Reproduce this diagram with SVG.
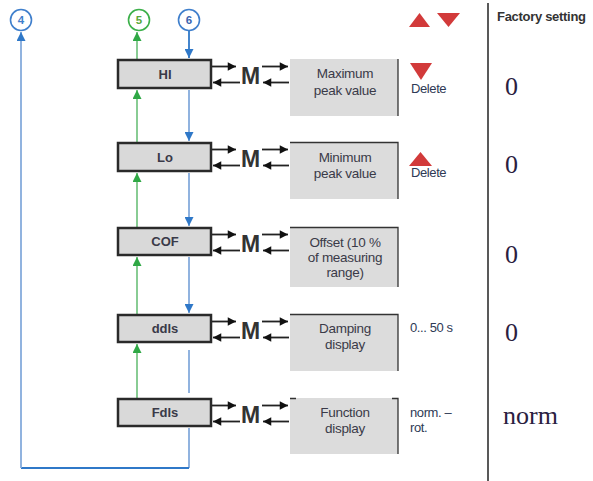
<svg xmlns="http://www.w3.org/2000/svg" width="593" height="481" viewBox="0 0 593 481">
<style>
.box{fill:#d9d9d9;stroke:#2a2a2a;stroke-width:2.5}
.pbox{fill:#dcdcdc}
.pedge{stroke:#333;stroke-width:1.3;fill:none}
.lbl{font-family:"Liberation Sans",Arial,sans-serif;font-weight:bold;font-size:13px;fill:#3a3a48;text-anchor:middle}
.ptxt{font-family:"Liberation Sans",Arial,sans-serif;font-size:13.5px;fill:#3a3a48;text-anchor:middle;letter-spacing:-0.3px}
.side{font-family:"Liberation Sans",Arial,sans-serif;font-size:13px;fill:#2e3a55;letter-spacing:-0.4px}
.M{font-family:"Liberation Sans",Arial,sans-serif;font-weight:bold;font-size:23px;fill:#333}
.val{font-family:"Liberation Serif","Times New Roman",serif;font-size:26px;fill:#2a2040}
.mar{stroke:#222;stroke-width:1.8;fill:none}
.g{stroke:#7cc788;stroke-width:1.8;fill:none}
.b{stroke:#85abdc;stroke-width:1.8;fill:none}
.bd{stroke:#2f78c8;stroke-width:1.8;fill:none}
.circ{fill:#fff;stroke-width:1.6}
.num{font-family:"Liberation Sans",Arial,sans-serif;font-weight:bold;font-size:11.5px;text-anchor:middle}
.red{fill:#d23a3a}
</style>
<defs>
<marker id="ag" viewBox="0 0 10 10" refX="10" refY="5" markerWidth="5" markerHeight="5" orient="auto" markerUnits="strokeWidth"><path d="M0,0 L10,5 L0,10 z" fill="#2fa845"/></marker>
<marker id="ab" viewBox="0 0 10 10" refX="10" refY="5" markerWidth="5" markerHeight="5" orient="auto" markerUnits="strokeWidth"><path d="M0,0 L10,5 L0,10 z" fill="#2f78c8"/></marker>
<marker id="ak" viewBox="0 0 10 10" refX="10" refY="5" markerWidth="5" markerHeight="4.6" orient="auto" markerUnits="strokeWidth"><path d="M0,0 L10,5 L0,10 z" fill="#111"/></marker>
</defs>

<!-- circles -->
<g id="c4"><circle class="circ" cx="21" cy="20" r="10.5" stroke="#3f7fcc"/><text class="num" x="21" y="24" fill="#3f7fcc">4</text></g>
<g id="c5"><circle class="circ" cx="139" cy="20" r="10.5" stroke="#3cb04a"/><text class="num" x="139" y="24" fill="#5aa83a">5</text></g>
<g id="c6"><circle class="circ" cx="189" cy="20" r="10.5" stroke="#3f7fcc"/><text class="num" x="189" y="24" fill="#3a64b0">6</text></g>

<!-- connectors -->
<g id="connectors">
<line class="g" x1="137" y1="59" x2="137" y2="32" marker-end="url(#ag)"/>
<line class="g" x1="137" y1="142" x2="137" y2="90" marker-end="url(#ag)"/>
<line class="g" x1="137" y1="227" x2="137" y2="173" marker-end="url(#ag)"/>
<line class="g" x1="137" y1="314" x2="137" y2="257" marker-end="url(#ag)"/>
<line class="g" x1="137" y1="398" x2="137" y2="344" marker-end="url(#ag)"/>
<line class="bd" x1="189" y1="31" x2="189" y2="58" marker-end="url(#ab)"/>
<line class="b" x1="189" y1="90" x2="189" y2="141" marker-end="url(#ab)"/>
<line class="b" x1="189" y1="173" x2="189" y2="226" marker-end="url(#ab)"/>
<line class="b" x1="189" y1="257" x2="189" y2="313" marker-end="url(#ab)"/>
<line class="b" x1="189" y1="350" x2="189" y2="393"/>
<polyline class="b" points="189,428 189,468"/>
<line class="bd" x1="189" y1="468" x2="21" y2="468"/>
<line class="b" x1="21" y1="468" x2="21" y2="32" marker-end="url(#ab)"/>
</g>

<!-- M arrows per row -->
<g id="m-arrows">
<g transform="translate(0,59)">
<line class="mar" x1="212" y1="7.5" x2="236" y2="7.5" marker-end="url(#ak)"/>
<line class="mar" x1="240" y1="23.5" x2="213" y2="23.5" marker-end="url(#ak)"/>
<text class="M" x="241" y="25">M</text>
<line class="mar" x1="262" y1="7.5" x2="288" y2="7.5" marker-end="url(#ak)"/>
<line class="mar" x1="289" y1="23.5" x2="263" y2="23.5" marker-end="url(#ak)"/>
</g>
<g transform="translate(0,142)">
<line class="mar" x1="212" y1="7.5" x2="236" y2="7.5" marker-end="url(#ak)"/>
<line class="mar" x1="240" y1="23.5" x2="213" y2="23.5" marker-end="url(#ak)"/>
<text class="M" x="241" y="25">M</text>
<line class="mar" x1="262" y1="7.5" x2="288" y2="7.5" marker-end="url(#ak)"/>
<line class="mar" x1="289" y1="23.5" x2="263" y2="23.5" marker-end="url(#ak)"/>
</g>
<g transform="translate(0,227)">
<line class="mar" x1="212" y1="7.5" x2="236" y2="7.5" marker-end="url(#ak)"/>
<line class="mar" x1="240" y1="23.5" x2="213" y2="23.5" marker-end="url(#ak)"/>
<text class="M" x="241" y="25">M</text>
<line class="mar" x1="262" y1="7.5" x2="288" y2="7.5" marker-end="url(#ak)"/>
<line class="mar" x1="289" y1="23.5" x2="263" y2="23.5" marker-end="url(#ak)"/>
</g>
<g transform="translate(0,314)">
<line class="mar" x1="212" y1="7.5" x2="236" y2="7.5" marker-end="url(#ak)"/>
<line class="mar" x1="240" y1="23.5" x2="213" y2="23.5" marker-end="url(#ak)"/>
<text class="M" x="241" y="25">M</text>
<line class="mar" x1="262" y1="7.5" x2="288" y2="7.5" marker-end="url(#ak)"/>
<line class="mar" x1="289" y1="23.5" x2="263" y2="23.5" marker-end="url(#ak)"/>
</g>
<g transform="translate(0,398)">
<line class="mar" x1="212" y1="7.5" x2="236" y2="7.5" marker-end="url(#ak)"/>
<line class="mar" x1="240" y1="23.5" x2="213" y2="23.5" marker-end="url(#ak)"/>
<text class="M" x="241" y="25">M</text>
<line class="mar" x1="262" y1="7.5" x2="288" y2="7.5" marker-end="url(#ak)"/>
<line class="mar" x1="289" y1="23.5" x2="263" y2="23.5" marker-end="url(#ak)"/>
</g>
</g>

<!-- left nodes -->
<g id="HI"><rect class="box" x="118" y="60" width="93" height="28"/><text class="lbl" x="165" y="79">HI</text></g>
<g id="Lo"><rect class="box" x="118" y="143" width="93" height="28"/><text class="lbl" x="165" y="162">Lo</text></g>
<g id="COF"><rect class="box" x="118" y="228" width="93" height="27"/><text class="lbl" x="165" y="246">COF</text></g>
<g id="ddls"><rect class="box" x="118" y="315" width="93" height="27"/><text class="lbl" x="165" y="333">ddls</text></g>
<g id="Fdls"><rect class="box" x="118" y="399" width="93" height="27"/><text class="lbl" x="165" y="417">Fdls</text></g>

<!-- parameter boxes -->
<g id="p-max"><rect class="pbox" x="290" y="59" width="108" height="57"/><line class="pedge" x1="398" y1="59" x2="398" y2="116"/>
<text class="ptxt" x="345" y="78">Maximum</text><text class="ptxt" x="345" y="95">peak value</text></g>
<g id="p-min"><rect class="pbox" x="290" y="142" width="108" height="57"/><path class="pedge" d="M290,142.5 H398 V199"/>
<text class="ptxt" x="345" y="162">Minimum</text><text class="ptxt" x="345" y="178">peak value</text></g>
<g id="p-off"><rect class="pbox" x="290" y="227" width="108" height="60"/><path class="pedge" d="M290,227.5 H398 V287"/>
<text class="ptxt" x="345" y="247">Offset (10 %</text><text class="ptxt" x="345" y="262">of measuring</text><text class="ptxt" x="345" y="277">range)</text></g>
<g id="p-damp"><rect class="pbox" x="290" y="314" width="108" height="57"/><path class="pedge" d="M290,314.5 H398 V371"/>
<text class="ptxt" x="345" y="333">Damping</text><text class="ptxt" x="345" y="349">display</text></g>
<g id="p-func"><rect class="pbox" x="290" y="398" width="108" height="56"/><path class="pedge" d="M290,398.5 H296 M392,398.5 H398 V454"/>
<text class="ptxt" x="345" y="417">Function</text><text class="ptxt" x="345" y="433">display</text></g>

<!-- side notes -->
<polygon class="red" points="409,27 419.5,13 430,27"/>
<polygon class="red" points="437,13 460,13 448.5,27"/>
<polygon class="red" points="410,63 432,63 421,80"/>
<text class="side" x="411" y="93">Delete</text>
<polygon class="red" points="409,166 420.5,152 432,166"/>
<text class="side" x="411" y="177">Delete</text>
<text class="side" x="410" y="332">0... 50 s</text>
<text class="side" x="410" y="417">norm.  –</text>
<text class="side" x="410" y="432">rot.</text>

<!-- factory settings column -->
<line x1="488" y1="3" x2="488" y2="481" stroke="#222" stroke-width="1.5"/>
<text x="497" y="21" font-family="'Liberation Sans',Arial,sans-serif" font-weight="bold" font-size="13" fill="#333" letter-spacing="-0.3">Factory setting</text>
<text class="val" x="505" y="95">0</text>
<text class="val" x="505" y="173">0</text>
<text class="val" x="505" y="263">0</text>
<text class="val" x="505" y="341">0</text>
<text class="val" x="503" y="424">norm</text>
</svg>
